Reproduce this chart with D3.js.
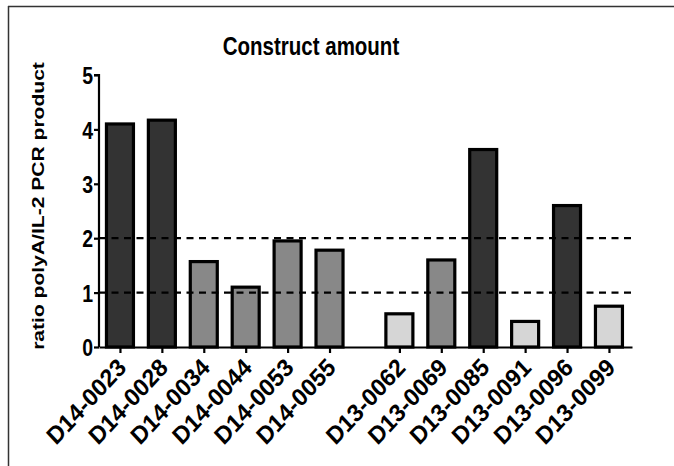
<!DOCTYPE html>
<html>
<head>
<meta charset="utf-8">
<script src="https://cdn.jsdelivr.net/npm/d3@7"></script>
<style>
  html, body { margin: 0; padding: 0; background: #ffffff; }
  svg { display: block; }
  text { font-family: "Liberation Sans", Arial, Helvetica, sans-serif; font-weight: bold; fill: #000; }
</style>
</head>
<body>
<script>
// ---- data ----
const categories = ["D14-0023","D14-0028","D14-0034","D14-0044","D14-0053","D14-0055",
                    "D13-0062","D13-0069","D13-0085","D13-0091","D13-0096","D13-0099"];
const groups     = ["D14","D14","D14","D14","D14","D14","D13","D13","D13","D13","D13","D13"];
const values     = [4.10, 4.17, 1.57, 1.10, 1.95, 1.78, 0.61, 1.60, 3.63, 0.47, 2.60, 0.75];
const levels     = ["high","high","mid","mid","mid","mid","low","mid","high","low","high","low"];
const yTicks     = [0, 1, 2, 3, 4, 5];
const refLines   = [1, 2];
const title      = "Construct amount";
const yTitle     = "ratio polyA/IL-2 PCR product";

// ---- layout ----
const W = 674, H = 466;
const stretch = 1.24;           // vertical stretch of the text in the reference
const levelColor = { high: "#333333", mid: "#888888", low: "#d6d6d6" };

const svg = d3.select("body").append("svg").attr("width", W).attr("height", H);

// frame (top and left edges)
svg.append("line").attr("x1", 8).attr("y1", 6.5).attr("x2", W).attr("y2", 6.5)
   .attr("stroke", "#333").attr("stroke-width", 1.5);
svg.append("line").attr("x1", 8.5).attr("y1", 6).attr("x2", 8.5).attr("y2", H)
   .attr("stroke", "#333").attr("stroke-width", 1.5);

// slot positions with a gap between groups
const gapSlots = 0.667;
const slots = [];
let s = 0;
categories.forEach((c, i) => {
  if (i > 0 && groups[i] !== groups[i - 1]) s += gapSlots;
  slots.push(s);
  s += 1;
});

const x = d3.scaleLinear().domain([-0.5, slots[slots.length - 1] + 0.55]).range([99, 632]);
const y = d3.scaleLinear().domain([0, 5]).range([347, 75]);

const barW = 27;

function dashes(g) {
  g.selectAll("line").data(refLines).join("line")
    .attr("x1", 99).attr("x2", 634)
    .attr("y1", d => y(d)).attr("y2", d => y(d))
    .attr("stroke", "#000").attr("stroke-width", 2.2)
    .attr("stroke-dasharray", "7,5.5");
}

// bars
svg.append("g").selectAll("rect").data(values).join("rect")
  .attr("x", (d, i) => x(slots[i]) - barW / 2)
  .attr("width", barW)
  .attr("y", d => y(d))
  .attr("height", d => y(0) - y(d))
  .attr("fill", (d, i) => levelColor[levels[i]])
  .attr("stroke", "#000").attr("stroke-width", 3.2);

// dashed reference lines drawn over the bars
svg.append("g").call(dashes);

// y axis
const yAxisG = svg.append("g").attr("transform", "translate(99,0)")
  .call(d3.axisLeft(y).tickValues(yTicks).tickFormat(d3.format("d")).tickSize(5).tickPadding(3));
yAxisG.select(".domain").attr("stroke", "#000").attr("stroke-width", 2.2)
  .attr("d", `M-5,${y(5)}H0V${y(0)}`);
yAxisG.selectAll(".tick line").attr("stroke", "#000").attr("stroke-width", 2.2);
yAxisG.selectAll(".tick text")
  .attr("font-size", 19.5)
  .attr("x", 0).attr("y", 0).attr("dy", "0.36em")
  .attr("transform", `translate(-6,0) scale(1,${stretch})`);

// x axis
const xAxisG = svg.append("g").attr("transform", `translate(0,${y(0)})`)
  .call(d3.axisBottom(x).tickValues(slots).tickFormat((d, i) => categories[i]).tickSize(6).tickSizeOuter(0));
xAxisG.select(".domain").attr("stroke", "#000").attr("stroke-width", 2.2);
xAxisG.selectAll(".tick text")
  .attr("font-size", 23)
  .attr("text-anchor", "end")
  .attr("x", 0).attr("y", 0).attr("dy", null)
  .attr("transform", `translate(7,22) scale(1,1.08) rotate(-45)`);
xAxisG.selectAll(".tick line").attr("stroke", "#000").attr("stroke-width", 2.2);

// title
svg.append("text").attr("text-anchor", "middle")
  .attr("font-size", 20.5)
  .attr("transform", `translate(311,55) scale(1,${stretch})`)
  .text(title);

// y title
svg.append("text").attr("text-anchor", "middle")
  .attr("font-size", 17)
  .attr("transform", `translate(44,206) scale(1,${stretch}) rotate(-90)`)
  .text(yTitle);
</script>
</body>
</html>
